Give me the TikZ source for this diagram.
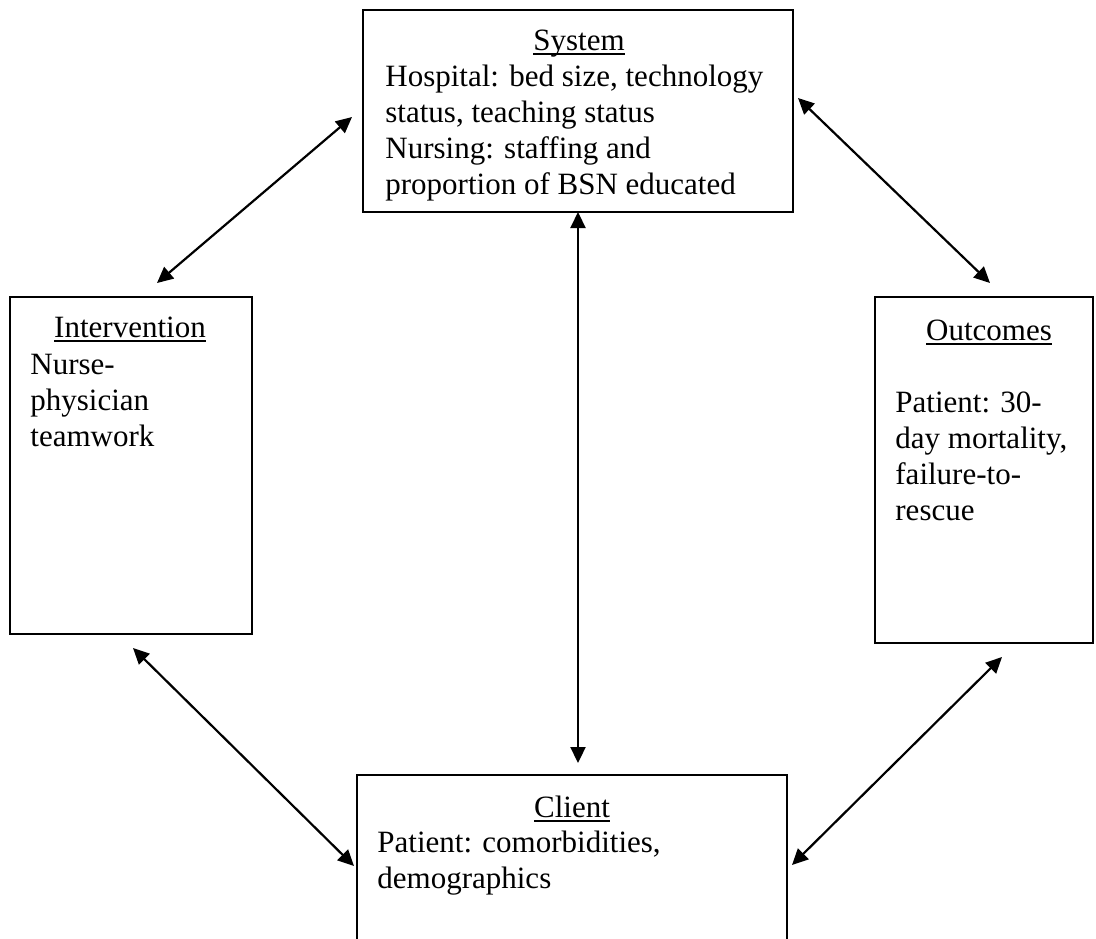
\documentclass[tikz,border=0pt]{standalone}
\usepackage{fontspec}
\setmainfont{Liberation Serif}
\usetikzlibrary{arrows.meta,positioning,calc}
\newcommand{\boxtitle}[1]{\setbox0\hbox{#1}\rlap{\rule[-2.4pt]{\wd0}{0.7pt}}\box0}

\begin{document}
\begin{tikzpicture}[x=0.5pt,y=-0.5pt,
 font=\fontsize{15.5}{18}\selectfont,
 box/.style={draw,line width=0.6pt,inner sep=0pt,outer sep=0pt},
 head/.style={anchor=base,inner sep=0pt},
 body/.style={anchor=base west,align=left,inner sep=0pt},
 link/.style={{Triangle[length=8pt,width=7.5pt]}-{Triangle[length=8pt,width=7.5pt]},line width=1.1pt}]
\useasboundingbox (0,0) rectangle (1096,938);
\node[box,minimum width=215pt,minimum height=101pt] (sys) at (578,111) {};
\node[box,minimum width=121pt,minimum height=168.5pt] (int) at (131,465.5) {};
\node[box,minimum width=109pt,minimum height=173pt] (out) at (984,470) {};
\node[box,minimum width=215pt,minimum height=100pt] (cli) at (572,875) {};
% titles at their baselines, bodies at the baseline of their last line
\node[head] (sysT) at (579,50) {\boxtitle{System}};
\node[body] (sysB) at (385,194) {Hospital: bed size, technology\\status, teaching status\\Nursing: staffing and\\proportion of BSN educated};
\node[head] (intT) at (130,337) {\boxtitle{Intervention}};
\node[body] (intB) at (30,446) {Nurse-\\physician\\teamwork};
\node[head] (outT) at (989,340) {\boxtitle{Outcomes}};
\node[body] (outB) at (895,520) {Patient: 30-\\day mortality,\\failure-to-\\rescue};
\node[head] (cliT) at (572,817) {\boxtitle{Client}};
\node[body] (cliB) at (377,888) {Patient: comorbidities,\\demographics};
\draw[link] ([shift={(-11,6)}]sys.west) -- ([shift={(26,-14)}]int.north);
\draw[link] ([shift={(5,-13)}]sys.east) -- ([shift={(6,-14)}]out.north);
\draw[link] (sys.south) -- ($(sys.south |- cli.north)+(0,-12)$);
\draw[link] ([shift={(2,14)}]int.south) -- ([shift={(-3,-9)}]cli.west);
\draw[link] ([shift={(18,14)}]out.south) -- ([shift={(5,-10)}]cli.east);
\end{tikzpicture}
\end{document}
